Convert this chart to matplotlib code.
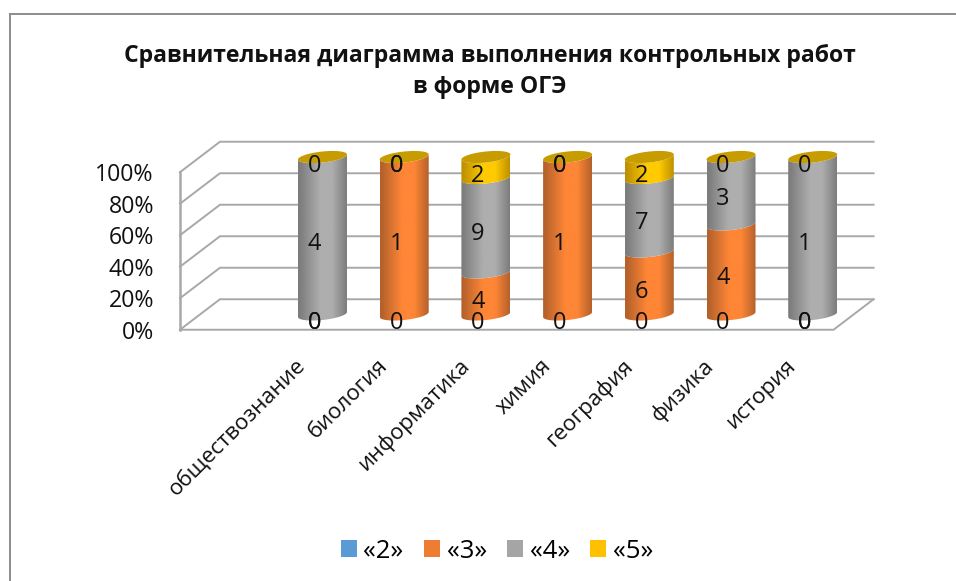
import numpy as np
import matplotlib
matplotlib.use("Agg")
import matplotlib.pyplot as plt
from matplotlib.colors import LinearSegmentedColormap
from matplotlib.patches import Patch, Polygon
from matplotlib.path import Path
from matplotlib.transforms import ScaledTranslation

plt.rcParams['font.family'] = ['Open Sans', 'DejaVu Sans']

# Data
subjects = ['обществознание', 'биология', 'информатика', 'химия', 'география', 'физика', 'история']
grade_2 = [0, 0, 0, 0, 0, 0, 0]
grade_3 = [0, 1, 4, 1, 6, 4, 0]
grade_4 = [4, 0, 9, 0, 7, 3, 1]
grade_5 = [0, 0, 2, 0, 2, 0, 0]
series_names = ['«2»', '«3»', '«4»', '«5»']
y_ticks = [0, 20, 40, 60, 80, 100]
title = 'Сравнительная диаграмма выполнения контрольных работ\nв форме ОГЭ'

# Colours: legend colour, cylinder edge, cylinder highlight
legend_colors = ['#5B9BD5', '#ED7D31', '#A5A5A5', '#FFC000']
edge_colors = ['#3F6F9C', '#B4612B', '#7C7C7C', '#BE9000']
light_colors = ['#66AEF0', '#FF8636', '#AEAEAE', '#FFCB00']
cap_color = '#C79C00'
line_color = '#A8A8A8'

# Layout of the chart (pixels of the picture)
W, H = 956, 581
X0_PX, X_STEP = 322.5, 81.7
Y0_PX, Y_STEP = 314.5, 1.575
DEPTH_X = 20 / X_STEP
DEPTH_Y = 15.25 / Y_STEP
RADIUS = 24.5 / X_STEP
CAP_H = 5.5 / Y_STEP
TILT = 2.5 / Y_STEP

fig = plt.figure(figsize=(W / 100, H / 100), dpi=100)
ax = fig.add_axes([0, 0, 1, 1])
ax.axis('off')


def px_offset(dx, dy):
    return ax.transData + ScaledTranslation(dx / 100, dy / 100, fig.dpi_scale_trans)


def front_arc(cx, level):
    t = np.linspace(np.pi, 2 * np.pi, 40)
    x = cx + RADIUS * np.cos(t)
    y = level + CAP_H * np.sin(t) + TILT * np.cos(t)
    return x, y


def draw_segment(cx, bottom, top, k):
    if top <= bottom:
        return
    x1, y1 = front_arc(cx, bottom)
    x2, y2 = front_arc(cx, top)
    verts = np.vstack([np.column_stack([x1, y1]), np.column_stack([x2, y2])[::-1]])
    cmap = LinearSegmentedColormap.from_list(
        'c', [(0, edge_colors[k]), (0.03, edge_colors[k]), (0.45, light_colors[k]),
              (0.7, light_colors[k]), (1, edge_colors[k])])
    grad = np.linspace(0, 1, 128).reshape(1, -1)
    im = ax.imshow(grad, cmap=cmap, aspect='auto', zorder=3, interpolation='bilinear',
                   extent=(cx - RADIUS, cx + RADIUS, bottom - CAP_H - TILT, top + CAP_H + TILT))
    im.set_clip_path(Path(np.vstack([verts, verts[0]]), closed=True), transform=ax.transData)


# Walls and floor
x_left, x_right = -1.5, 6.5
for v in y_ticks:
    ax.plot([x_left - DEPTH_X, x_left + DEPTH_X, x_right + DEPTH_X],
            [v - DEPTH_Y, v + DEPTH_Y, v + DEPTH_Y], color=line_color, lw=1.4, zorder=1,
            solid_joinstyle='miter')
    ax.text(x_left - DEPTH_X, v - DEPTH_Y, f'{v}%', ha='right', va='center', fontsize=16.7,
            color='#111111', transform=px_offset(-26, -3))
ax.plot([x_left - DEPTH_X] * 2, [-DEPTH_Y, 100 - DEPTH_Y], color=line_color, lw=1.8, zorder=1)
ax.plot([x_left - DEPTH_X, x_right - DEPTH_X, x_right + DEPTH_X],
        [-DEPTH_Y, -DEPTH_Y, DEPTH_Y], color=line_color, lw=1.4, zorder=1)

# Cylinders and value labels
series = [grade_2, grade_3, grade_4, grade_5]
for i in range(len(subjects)):
    values = [s[i] for s in series]
    total = sum(values)
    level = 0
    for k, val in enumerate(values):
        share = val / total * 100
        draw_segment(i, level, level + share, k)
        ax.text(i, level + share / 2, str(val), ha='center', va='center', fontsize=17,
                color='#111111', zorder=5, transform=px_offset(-8, -8.5))
        level += share
    t = np.linspace(0, 2 * np.pi, 80)
    cap = np.column_stack([i + RADIUS * np.cos(t), 100 + CAP_H * np.sin(t) + TILT * np.cos(t)])
    ax.add_patch(Polygon(cap, closed=True, facecolor=cap_color, edgecolor='none', zorder=4))
    ax.text(i, -DEPTH_Y, subjects[i], rotation=45, rotation_mode='anchor', ha='right', va='center',
            fontsize=16, color='#111111', transform=px_offset(-20, -33))

ax.set_xlim(-X0_PX / X_STEP, (W - X0_PX) / X_STEP)
ax.set_ylim((Y0_PX - H) / Y_STEP, Y0_PX / Y_STEP)

# Chart border (top and left only are visible)
fig.add_artist(plt.Line2D([9.5 / W, 1], [1 - 13.5 / H] * 2, color='#8C8C8C', lw=1.4))
fig.add_artist(plt.Line2D([9.5 / W] * 2, [0, 1 - 13.5 / H], color='#8C8C8C', lw=1.4))

fig.text(490 / W, 1 - 71.5 / H, title, ha='center', va='center', fontsize=16.6, fontweight='bold',
         color='#111111', linespacing=1.42)

handles = [Patch(facecolor=c, edgecolor='none', label=n) for c, n in zip(legend_colors, series_names)]
fig.legend(handles=handles, ncol=4, frameon=False, loc='center', bbox_to_anchor=(497 / W, 1 - 551 / H),
           fontsize=18.5, handlelength=0.6, handleheight=0.6, handletextpad=0.27, columnspacing=0.8)

fig.savefig('out.png', dpi=100, facecolor='white')
